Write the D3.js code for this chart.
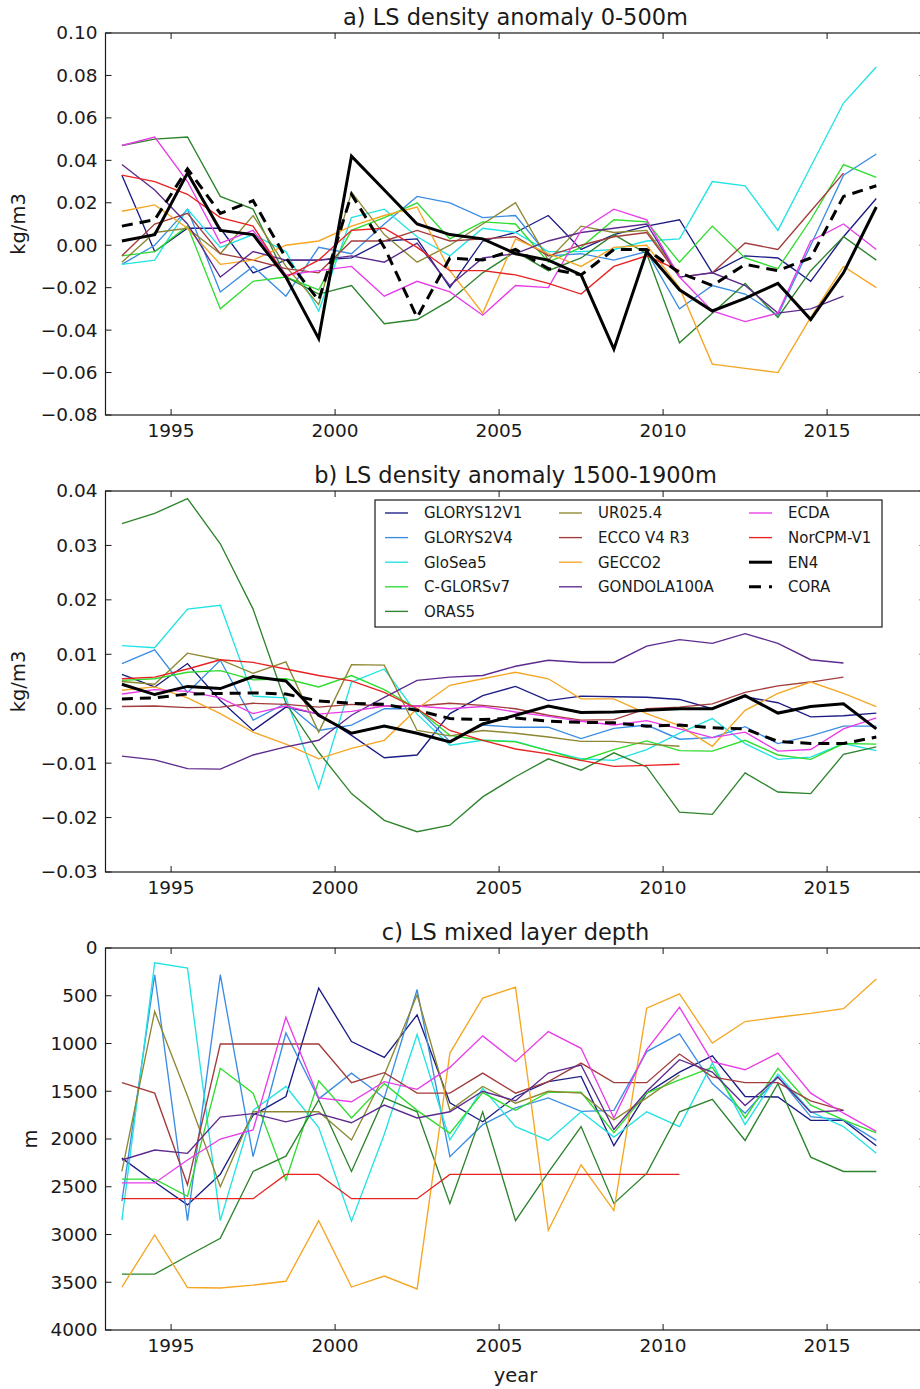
<!DOCTYPE html>
<html>
<head>
<meta charset="utf-8">
<script src="https://cdn.jsdelivr.net/npm/d3@7"></script>
<style>
  body { margin: 0; background: #fff; }
  text { font-family: "DejaVu Sans", sans-serif; fill: #1a1a1a; }
</style>
</head>
<body>
<svg id="chart" width="920" height="1389"></svg>
<script>
/* ===============================
   Data
================================ */

const years = d3.range(24).map(i => 1993.5 + i);

const seriesNames = ["GLORYS12V1", "GLORYS2V4", "GloSea5", "C-GLORSv7", "ORAS5",
  "UR025.4", "ECCO V4 R3", "GECCO2", "GONDOLA100A",
  "ECDA", "NorCPM-V1", "EN4", "CORA"];

const seriesColors = ["#1c1c86", "#3b8de4", "#22e3e3", "#2edc2e", "#2d842d",
  "#8c8832", "#a33c3c", "#f5a623", "#5d2b8e",
  "#e83ce8", "#e82222", "#000000", "#000000"];

const xTicks = [1995, 2000, 2005, 2010, 2015];

/* a) density anomaly 0-500m (kg/m3) */
const a_GLORYS12V1 = [0.033, -0.003, 0.008, 0.008, -0.013, -0.007, -0.007, -0.006, 0.002, 0.003, -0.020, 0.002, 0.006, 0.014, -0.002, 0.005, 0.009, 0.012, -0.013, -0.005, -0.006, -0.017, 0.004, 0.022];
const a_GLORYS2V4  = [-0.009, 0.000, 0.017, -0.022, -0.010, -0.024, -0.001, -0.004, 0.010, 0.023, 0.020, 0.013, 0.014, -0.005, -0.004, -0.007, -0.003, -0.030, -0.019, -0.023, -0.033, 0.000, 0.033, 0.043];
const a_GloSea5    = [-0.009, -0.007, 0.017, -0.001, 0.005, -0.003, -0.031, 0.013, 0.017, 0.004, -0.005, 0.008, 0.006, -0.003, -0.003, -0.002, 0.002, 0.003, 0.030, 0.028, 0.007, 0.037, 0.067, 0.084];
const a_CGLORSv7   = [-0.005, -0.003, 0.009, -0.030, -0.017, -0.015, -0.021, 0.007, 0.013, 0.020, 0.003, 0.011, 0.010, -0.008, -0.001, 0.012, 0.011, -0.008, 0.009, -0.006, -0.011, 0.012, 0.038, 0.032];
const a_ORAS5      = [0.047, 0.050, 0.051, 0.023, 0.017, -0.015, -0.023, -0.019, -0.037, -0.035, -0.026, -0.013, -0.003, -0.012, -0.006, 0.005, -0.004, -0.046, -0.032, -0.018, -0.034, -0.012, 0.004, -0.007];
const a_UR0254     = [-0.008, 0.006, 0.008, -0.004, 0.014, -0.010, -0.028, 0.025, 0.005, -0.008, 0.000, 0.010, 0.020, -0.007, 0.009, 0.006, 0.007, -0.014, null, null, null, null, null, null];
const a_ECCO       = [-0.005, 0.010, 0.015, -0.004, -0.007, -0.011, -0.013, 0.002, 0.002, 0.007, 0.002, 0.003, 0.004, -0.005, 0.000, 0.004, 0.006, -0.015, -0.013, 0.001, -0.002, 0.016, 0.034, null];
const a_GECCO2     = [0.016, 0.019, 0.008, -0.009, -0.007, 0.000, 0.002, 0.009, 0.014, 0.018, -0.012, -0.032, 0.003, -0.004, -0.010, -0.001, 0.000, -0.020, -0.056, -0.058, -0.060, -0.034, -0.010, -0.020];
const a_GONDOLA    = [0.038, 0.026, 0.010, -0.015, -0.003, -0.007, -0.007, -0.005, -0.008, 0.001, -0.019, -0.006, -0.004, 0.002, 0.006, 0.008, 0.010, -0.015, -0.013, -0.019, -0.032, -0.030, -0.024, null];
const a_ECDA       = [0.047, 0.051, 0.030, 0.001, 0.007, -0.014, -0.012, -0.010, -0.024, -0.017, -0.022, -0.033, -0.019, -0.020, 0.007, 0.017, 0.012, -0.015, -0.031, -0.036, -0.032, 0.002, 0.010, -0.002];
const a_NorCPM     = [0.033, 0.030, 0.024, 0.013, 0.009, -0.015, -0.007, 0.007, 0.008, -0.001, -0.012, -0.012, -0.014, -0.018, -0.023, -0.010, -0.005, -0.012, null, null, null, null, null, null];
const a_EN4        = [0.002, 0.005, 0.034, 0.007, 0.005, -0.015, -0.044, 0.042, 0.026, 0.010, 0.005, 0.003, -0.004, -0.007, -0.014, -0.049, -0.003, -0.021, -0.031, -0.025, -0.018, -0.035, -0.013, 0.018];
const a_CORA       = [0.009, 0.012, 0.036, 0.015, 0.021, -0.006, -0.026, 0.024, -0.001, -0.034, -0.006, -0.007, -0.002, -0.011, -0.014, -0.002, -0.002, -0.013, -0.019, -0.009, -0.012, -0.006, 0.023, 0.028];

/* b) density anomaly 1500-1900m (kg/m3) */
const b_GLORYS12V1 = [0.0063, 0.0040, 0.0083, 0.0015, -0.0040, 0.0003, -0.0010, -0.0049, -0.0090, -0.0085, -0.0009, 0.0024, 0.0041, 0.0015, 0.0023, 0.0022, 0.0021, 0.0017, 0.0000, 0.0022, 0.0011, -0.0015, -0.0013, -0.0008];
const b_GLORYS2V4  = [0.0083, 0.0108, 0.0030, 0.0089, -0.0021, 0.0010, -0.0040, -0.0030, 0.0000, 0.0000, -0.0060, -0.0030, -0.0034, -0.0034, -0.0055, -0.0036, -0.0030, -0.0056, -0.0053, -0.0033, -0.0064, -0.0050, -0.0032, -0.0032];
const b_GloSea5    = [0.0116, 0.0112, 0.0183, 0.0190, 0.0023, 0.0020, -0.0147, 0.0049, 0.0073, -0.0010, -0.0067, -0.0058, -0.0060, -0.0077, -0.0092, -0.0095, -0.0075, -0.0045, -0.0018, -0.0064, -0.0093, -0.0089, -0.0064, -0.0077];
const b_CGLORSv7   = [0.0052, 0.0055, 0.0067, 0.0070, 0.0053, 0.0055, 0.0040, 0.0061, 0.0035, 0.0000, -0.0049, -0.0058, -0.0061, -0.0077, -0.0095, -0.0075, -0.0059, -0.0077, -0.0078, -0.0058, -0.0085, -0.0093, -0.0064, -0.0065];
const b_ORAS5      = [0.0340, 0.0359, 0.0386, 0.0303, 0.0183, 0.0010, -0.0080, -0.0156, -0.0205, -0.0226, -0.0214, -0.0162, -0.0125, -0.0092, -0.0113, -0.0081, -0.0107, -0.0190, -0.0194, -0.0118, -0.0153, -0.0156, -0.0084, -0.0070];
const b_UR0254     = [0.0050, 0.0045, 0.0102, 0.0090, 0.0065, 0.0086, -0.0043, 0.0081, 0.0080, -0.0040, -0.0050, -0.0040, -0.0045, -0.0052, -0.0060, -0.0060, -0.0065, -0.0069, null, null, null, null, null, null];
const b_ECCO       = [0.0004, 0.0005, 0.0002, 0.0003, 0.0010, 0.0008, 0.0003, 0.0008, 0.0005, 0.0005, 0.0010, 0.0006, 0.0000, -0.0012, -0.0021, -0.0020, 0.0000, 0.0003, 0.0009, 0.0030, 0.0042, 0.0049, 0.0058, null];
const b_GECCO2     = [0.0034, 0.0040, 0.0020, -0.0009, -0.0043, -0.0065, -0.0092, -0.0073, -0.0058, 0.0000, 0.0043, 0.0055, 0.0067, 0.0055, 0.0018, 0.0018, -0.0009, -0.0031, -0.0069, -0.0003, 0.0028, 0.0049, 0.0028, 0.0004];
const b_GONDOLA    = [-0.0087, -0.0094, -0.0110, -0.0111, -0.0085, -0.0070, -0.0058, -0.0012, 0.0021, 0.0052, 0.0058, 0.0061, 0.0078, 0.0089, 0.0085, 0.0085, 0.0115, 0.0127, 0.0120, 0.0138, 0.0120, 0.0090, 0.0084, null];
const b_ECDA       = [0.0027, 0.0035, 0.0032, 0.0020, -0.0009, 0.0005, -0.0010, -0.0005, 0.0005, 0.0005, 0.0000, 0.0004, -0.0006, -0.0014, -0.0023, -0.0030, -0.0022, -0.0037, -0.0053, -0.0043, -0.0078, -0.0075, -0.0037, -0.0017];
const b_NorCPM     = [0.0055, 0.0058, 0.0073, 0.0090, 0.0085, 0.0073, 0.0061, 0.0051, 0.0030, 0.0000, -0.0040, -0.0058, -0.0074, -0.0083, -0.0095, -0.0106, -0.0104, -0.0102, null, null, null, null, null, null];
const b_EN4        = [0.0045, 0.0026, 0.0041, 0.0037, 0.0059, 0.0051, -0.0012, -0.0045, -0.0032, -0.0045, -0.0061, -0.0028, -0.0012, 0.0005, -0.0007, -0.0006, -0.0003, 0.0000, 0.0000, 0.0024, -0.0008, 0.0004, 0.0009, -0.0037];
const b_CORA       = [0.0018, 0.0020, 0.0027, 0.0028, 0.0029, 0.0027, 0.0014, 0.0010, 0.0008, -0.0003, -0.0018, -0.0020, -0.0017, -0.0023, -0.0025, -0.0026, -0.0032, -0.0030, -0.0035, -0.0037, -0.0060, -0.0064, -0.0064, -0.0052];

/* c) mixed layer depth (m); EN4 and CORA have no values here */
const c_GLORYS12V1 = [2200, 2450, 2690, 2370, 1750, 1555, 420, 980, 1145, 700, 1620, 1820, 1555, 1400, 1345, 2070, 1520, 1300, 1130, 1555, 1560, 1805, 1805, 2070];
const c_GLORYS2V4  = [2650, 280, 2855, 280, 2185, 890, 1580, 1310, 1570, 435, 2185, 1850, 1675, 1570, 1710, 1700, 1085, 900, 1420, 1730, 1350, 1765, 1800, 2015];
const c_GloSea5    = [2850, 155, 210, 2855, 1700, 1450, 1880, 2860, 1950, 905, 2010, 1470, 1870, 2015, 1715, 1980, 1715, 1870, 1205, 1850, 1320, 1715, 1870, 2150];
const c_CGLORSv7   = [2420, 2420, 2600, 1260, 1520, 2430, 1390, 1780, 1420, 1700, 1940, 1515, 1700, 1510, 1510, 1935, 1520, 1380, 1250, 1780, 1260, 1645, 1800, 1935];
const c_ORAS5      = [3415, 3415, 3225, 3040, 2340, 2180, 1590, 2340, 1570, 1715, 2675, 1715, 2855, 2350, 1870, 2675, 2360, 1715, 1585, 2015, 1420, 2190, 2340, 2340];
const c_UR0254     = [2340, 665, 1550, 2500, 1715, 1715, 1715, 2010, 1330, 490, 1700, 1450, 1625, 1500, 1520, 1800, 1570, 1330, null, null, null, null, null, null];
const c_ECCO       = [1410, 1520, 2480, 1005, 1005, 1005, 1005, 1410, 1305, 1520, 1520, 1310, 1520, 1400, 1205, 1410, 1410, 1110, 1350, 1410, 1410, 1600, 1700, null];
const c_GECCO2     = [3550, 3005, 3555, 3560, 3530, 3490, 2855, 3550, 3435, 3570, 1100, 525, 410, 2955, 2270, 2750, 630, 480, 995, 770, 725, 685, 635, 325];
const c_GONDOLA    = [2220, 2115, 2150, 1770, 1735, 1820, 1735, 1830, 1645, 1780, 1715, 1500, 1600, 1310, 1225, 1900, 1500, 1170, 1300, 1650, 1350, 1720, 1700, null];
const c_ECDA       = [2460, 2460, 2220, 2000, 1905, 725, 1570, 1610, 1400, 1480, 1250, 920, 1190, 875, 1050, 1780, 1065, 620, 1190, 1275, 1100, 1520, 1730, 1920];
const c_NorCPM     = [2625, 2625, 2625, 2625, 2625, 2370, 2370, 2625, 2625, 2625, 2370, 2370, 2370, 2370, 2370, 2370, 2370, 2370, null, null, null, null, null, null];
const c_EN4        = [];
const c_CORA       = [];

const aTicks = d3.range(-0.08, 0.1001, 0.02);
const bTicks = d3.range(-0.03, 0.0401, 0.01);
const cTicks = d3.range(0, 4001, 500);

/* ===============================
   Layout
================================ */

const svg = d3.select("#chart");
const LEFT = 105.5, RIGHT = 925.5;
const TICK_FONT = 18.5;

const x = d3.scaleLinear().domain([1993, 2018]).range([LEFT, RIGHT]);

const panels = [
  { title: "a) LS density anomaly 0-500m", top: 33, bottom: 415, domain: [-0.08, 0.10],
    ticks: aTicks, fmt: d3.format(".2f"), ylabel: "kg/m3",
    data: [a_GLORYS12V1, a_GLORYS2V4, a_GloSea5, a_CGLORSv7, a_ORAS5, a_UR0254, a_ECCO,
           a_GECCO2, a_GONDOLA, a_ECDA, a_NorCPM, a_EN4, a_CORA] },
  { title: "b) LS density anomaly 1500-1900m", top: 491, bottom: 872, domain: [-0.03, 0.04],
    ticks: bTicks, fmt: d3.format(".2f"), ylabel: "kg/m3", legend: true,
    data: [b_GLORYS12V1, b_GLORYS2V4, b_GloSea5, b_CGLORSv7, b_ORAS5, b_UR0254, b_ECCO,
           b_GECCO2, b_GONDOLA, b_ECDA, b_NorCPM, b_EN4, b_CORA] },
  { title: "c) LS mixed layer depth", top: 948, bottom: 1330, domain: [4000, 0],
    ticks: cTicks, fmt: d3.format("d"), ylabel: "m", xlabel: "year",
    data: [c_GLORYS12V1, c_GLORYS2V4, c_GloSea5, c_CGLORSv7, c_ORAS5, c_UR0254, c_ECCO,
           c_GECCO2, c_GONDOLA, c_ECDA, c_NorCPM, c_EN4, c_CORA] }
];

const fmtMinus = f => v => f(Math.abs(v) < 1e-9 ? 0 : v).replace("-", "\u2212");

function lineStyle(i) {
  if (seriesNames[i] === "EN4") return { w: 3, dash: null };
  if (seriesNames[i] === "CORA") return { w: 3, dash: "11,7" };
  return { w: 1.35, dash: null };
}

/* ===============================
   Render
================================ */

panels.forEach(p => {
  const y = d3.scaleLinear().domain(p.domain).range([p.bottom, p.top]);
  const g = svg.append("g");

  const clipId = "clip" + p.top;
  svg.append("clipPath").attr("id", clipId)
    .append("rect")
    .attr("x", LEFT).attr("y", p.top)
    .attr("width", RIGHT - LEFT).attr("height", p.bottom - p.top);

  const line = d3.line()
    .defined(d => d.v != null)
    .x(d => x(d.year))
    .y(d => y(d.v));

  /* -------- LINES -------- */
  const lines = g.append("g").attr("clip-path", `url(#${clipId})`);
  p.data.forEach((vals, i) => {
    if (!vals.length) return;
    const pts = years.map((yr, k) => ({ year: yr, v: vals[k] }));
    const st = lineStyle(i);
    lines.append("path")
      .attr("d", line(pts))
      .attr("fill", "none")
      .attr("stroke", seriesColors[i])
      .attr("stroke-width", st.w)
      .attr("stroke-dasharray", st.dash);
  });

  /* -------- FRAME -------- */
  g.append("rect")
    .attr("x", LEFT).attr("y", p.top)
    .attr("width", RIGHT - LEFT).attr("height", p.bottom - p.top)
    .attr("fill", "none").attr("stroke", "#1a1a1a").attr("stroke-width", 1.2);

  /* x ticks, inward on bottom and top */
  xTicks.forEach(t => {
    g.append("line").attr("x1", x(t)).attr("x2", x(t))
      .attr("y1", p.bottom).attr("y2", p.bottom - 6).attr("stroke", "#1a1a1a");
    g.append("line").attr("x1", x(t)).attr("x2", x(t))
      .attr("y1", p.top).attr("y2", p.top + 6).attr("stroke", "#1a1a1a");
    g.append("text")
      .attr("x", x(t)).attr("y", p.bottom + 22)
      .attr("text-anchor", "middle")
      .attr("font-size", TICK_FONT)
      .text(t);
  });

  /* y ticks, inward on left and right */
  const fmt = fmtMinus(p.fmt);
  p.ticks.forEach(t => {
    g.append("line").attr("x1", LEFT).attr("x2", LEFT + 6)
      .attr("y1", y(t)).attr("y2", y(t)).attr("stroke", "#1a1a1a");
    g.append("line").attr("x1", RIGHT).attr("x2", RIGHT - 6)
      .attr("y1", y(t)).attr("y2", y(t)).attr("stroke", "#1a1a1a");
    g.append("text")
      .attr("x", LEFT - 8).attr("y", y(t))
      .attr("dy", "0.35em")
      .attr("text-anchor", "end")
      .attr("font-size", TICK_FONT)
      .text(fmt(t));
  });

  g.append("text")
    .attr("x", (LEFT + RIGHT) / 2).attr("y", p.top - 8)
    .attr("text-anchor", "middle")
    .attr("font-size", 22.5)
    .text(p.title);

  g.append("text")
    .attr("transform", `translate(${p.ylabel === "m" ? 37 : 25},${(p.top + p.bottom) / 2}) rotate(-90)`)
    .attr("text-anchor", "middle")
    .attr("font-size", 19.5)
    .text(p.ylabel);

  if (p.xlabel) {
    g.append("text")
      .attr("x", (LEFT + RIGHT) / 2).attr("y", p.bottom + 52)
      .attr("text-anchor", "middle")
      .attr("font-size", 19.5)
      .text(p.xlabel);
  }

  if (p.legend) drawLegend(g);
});

/* ===============================
   Legend
================================ */

function drawLegend(g) {
  const box = { x: 375, y: 500, w: 507, h: 127 };
  const colX = [385, 559, 749];
  const rowH = 24.6;
  const perCol = [5, 4, 4];

  const lg = g.append("g");
  lg.append("rect")
    .attr("x", box.x).attr("y", box.y)
    .attr("width", box.w).attr("height", box.h)
    .attr("fill", "#fff").attr("stroke", "#1a1a1a").attr("stroke-width", 1.2);

  let idx = 0;
  perCol.forEach((n, c) => {
    for (let r = 0; r < n; r++, idx++) {
      const cy = 513 + r * rowH;
      const st = lineStyle(idx);
      lg.append("line")
        .attr("x1", colX[c]).attr("x2", colX[c] + 23)
        .attr("y1", cy).attr("y2", cy)
        .attr("stroke", seriesColors[idx])
        .attr("stroke-width", st.w)
        .attr("stroke-dasharray", st.dash ? "12,8" : null);
      lg.append("text")
        .attr("x", colX[c] + 39).attr("y", cy)
        .attr("dy", "0.36em")
        .attr("font-size", 15)
        .text(seriesNames[idx]);
    }
  });
}
</script>
</body>
</html>
